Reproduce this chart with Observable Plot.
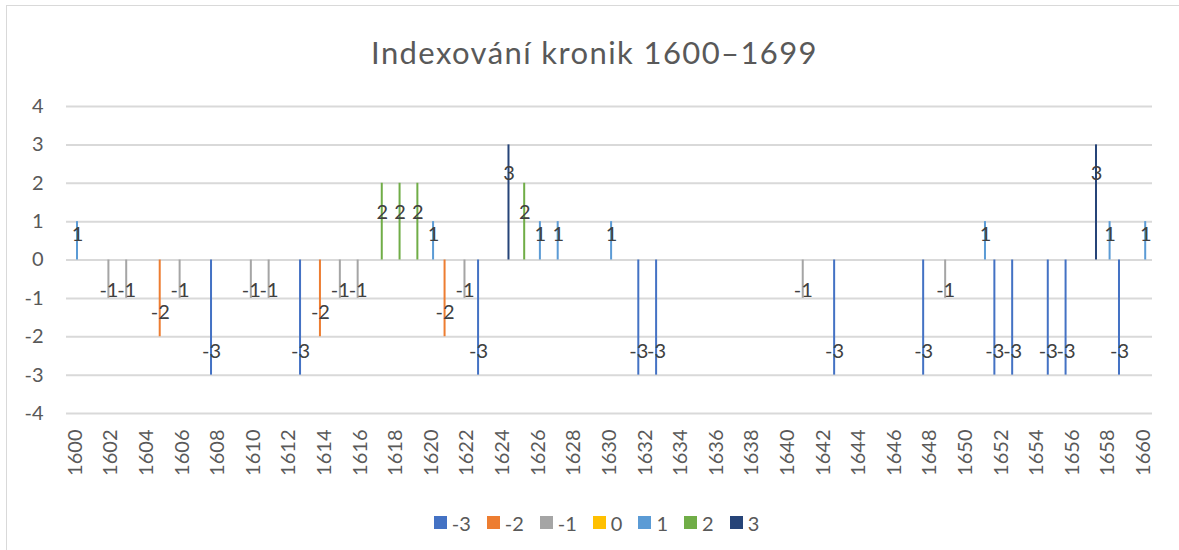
<!DOCTYPE html>
<html>
<head>
<meta charset="utf-8">
<script src="https://cdn.jsdelivr.net/npm/d3@7"></script>
<script src="https://cdn.jsdelivr.net/npm/@observablehq/plot@0.6"></script>
<style>
  html, body { margin: 0; padding: 0; background: #fff; }
  #chart { position: relative; width: 1179px; height: 550px; overflow: hidden; background: #fff; font-family: Lato, "Open Sans", sans-serif; }
  #frame { position: absolute; left: 6px; top: 5px; width: 1300px; height: 700px; border: 1px solid #d9d9d9; pointer-events: none; }
  #title { box-sizing: border-box; width: 1179px; height: 90px; padding-top: 34px; padding-left: 10px; line-height: 36px; text-align: center; font-size: 31px; letter-spacing: 1.4px; color: #595959; font-family: Lato, sans-serif; }
  #plot svg { display: block; }
  #legend { box-sizing: border-box; width: 1179px; padding-left: 30px; margin-top: 13px; }
  #legend .lg-swatches { justify-content: center; font-family: Lato, sans-serif; font-size: 20px; color: #595959; margin: 0 !important; }
  #legend .lg-swatch { margin-right: 16px !important; }
  #legend .lg-swatch > svg { margin-right: 5px !important; }
</style>
</head>
<body>
<div id="chart">
  <div id="title">Indexování kronik 1600–1699</div>
  <div id="plot"></div>
  <div id="legend"></div>
  <div id="frame"></div>
</div>
<script>
// ---- data ----
const seriesNames = ["-3", "-2", "-1", "0", "1", "2", "3"];
const seriesColors = ["#4472C4", "#ED7D31", "#A5A5A5", "#FFC000", "#5B9BD5", "#70AD47", "#264478"];
const categoryYears = d3.range(1600, 1661);
const years  = [1600, 1602, 1603, 1605, 1606, 1608, 1610, 1611, 1613, 1614, 1615, 1616, 1617, 1618, 1619, 1620, 1621, 1622, 1623, 1624, 1625, 1626, 1627, 1630, 1632, 1633, 1641, 1643, 1648, 1649, 1651, 1652, 1653, 1655, 1656, 1657, 1658, 1659, 1660];
const values = [1,    -1,   -1,   -2,   -1,   -3,   -1,   -1,   -3,   -2,   -1,   -1,    2,    2,    2,    1,   -2,   -1,   -3,    3,    2,    1,    1,    1,   -3,   -3,   -1,   -3,   -3,   -1,    1,   -3,   -3,   -3,   -3,    3,    1,   -3,    1];
const yTicks = [-4, -3, -2, -1, 0, 1, 2, 3, 4];

const data = years.map((y, i) => ({year: y, value: values[i], series: String(values[i])}));

// layout of the clustered columns (Excel style: 7 series slots per category)
const W = 1179, mL = 66, mR = 27;
const band = (W - mL - mR) / categoryYears.length;
const slot = band / (seriesNames.length + 1.47);
const barW = 2;
const inset = (band - barW) / 2;

const labelDy = v => (v >= 2 ? 29 : v === 1 ? 13 : v === -1 ? -8 : -24);

const barMarks = seriesNames.map((s, i) =>
  Plot.barY(data, {filter: d => d.series === s, x: "year", y: "value", fill: "series",
    dx: (i - 3) * slot, insetLeft: inset, insetRight: inset}));

const textMarks = [];
seriesNames.forEach((s, i) => {
  const v = +s;
  textMarks.push(Plot.text(data, {filter: d => d.series === s, x: "year", y: "value", text: "series",
    dx: (i - 3) * slot, dy: labelDy(v), fill: "#404040", fontSize: 20, fontFamily: "Lato", textAnchor: "middle"}));
});

const plot = Plot.plot({
  width: W,
  height: 403,
  marginLeft: mL,
  marginRight: mR,
  marginTop: 16,
  marginBottom: 80,
  style: {fontFamily: "Lato, sans-serif", fontSize: "20px", color: "#595959", background: "transparent", overflow: "visible"},
  x: {type: "band", domain: categoryYears, padding: 0, label: null, tickRotate: -90, tickSize: 0, tickPadding: 16,
      tickFormat: d => (d % 2 === 0 ? String(d) : "")},
  y: {domain: [-4, 4], ticks: yTicks, tickSize: 0, tickPadding: 23, label: null, tickFormat: d => String(d)},
  color: {domain: seriesNames, range: seriesColors},
  marks: [
    Plot.ruleY(yTicks, {stroke: "#d9d9d9", strokeWidth: 2}),
    ...barMarks,
    ...textMarks
  ]
});
document.getElementById("plot").appendChild(plot);

const legend = Plot.legend({
  color: {type: "ordinal", domain: seriesNames, range: seriesColors},
  legend: "swatches",
  swatchSize: 13,
  className: "lg"
});
document.getElementById("legend").appendChild(legend);
</script>
</body>
</html>
